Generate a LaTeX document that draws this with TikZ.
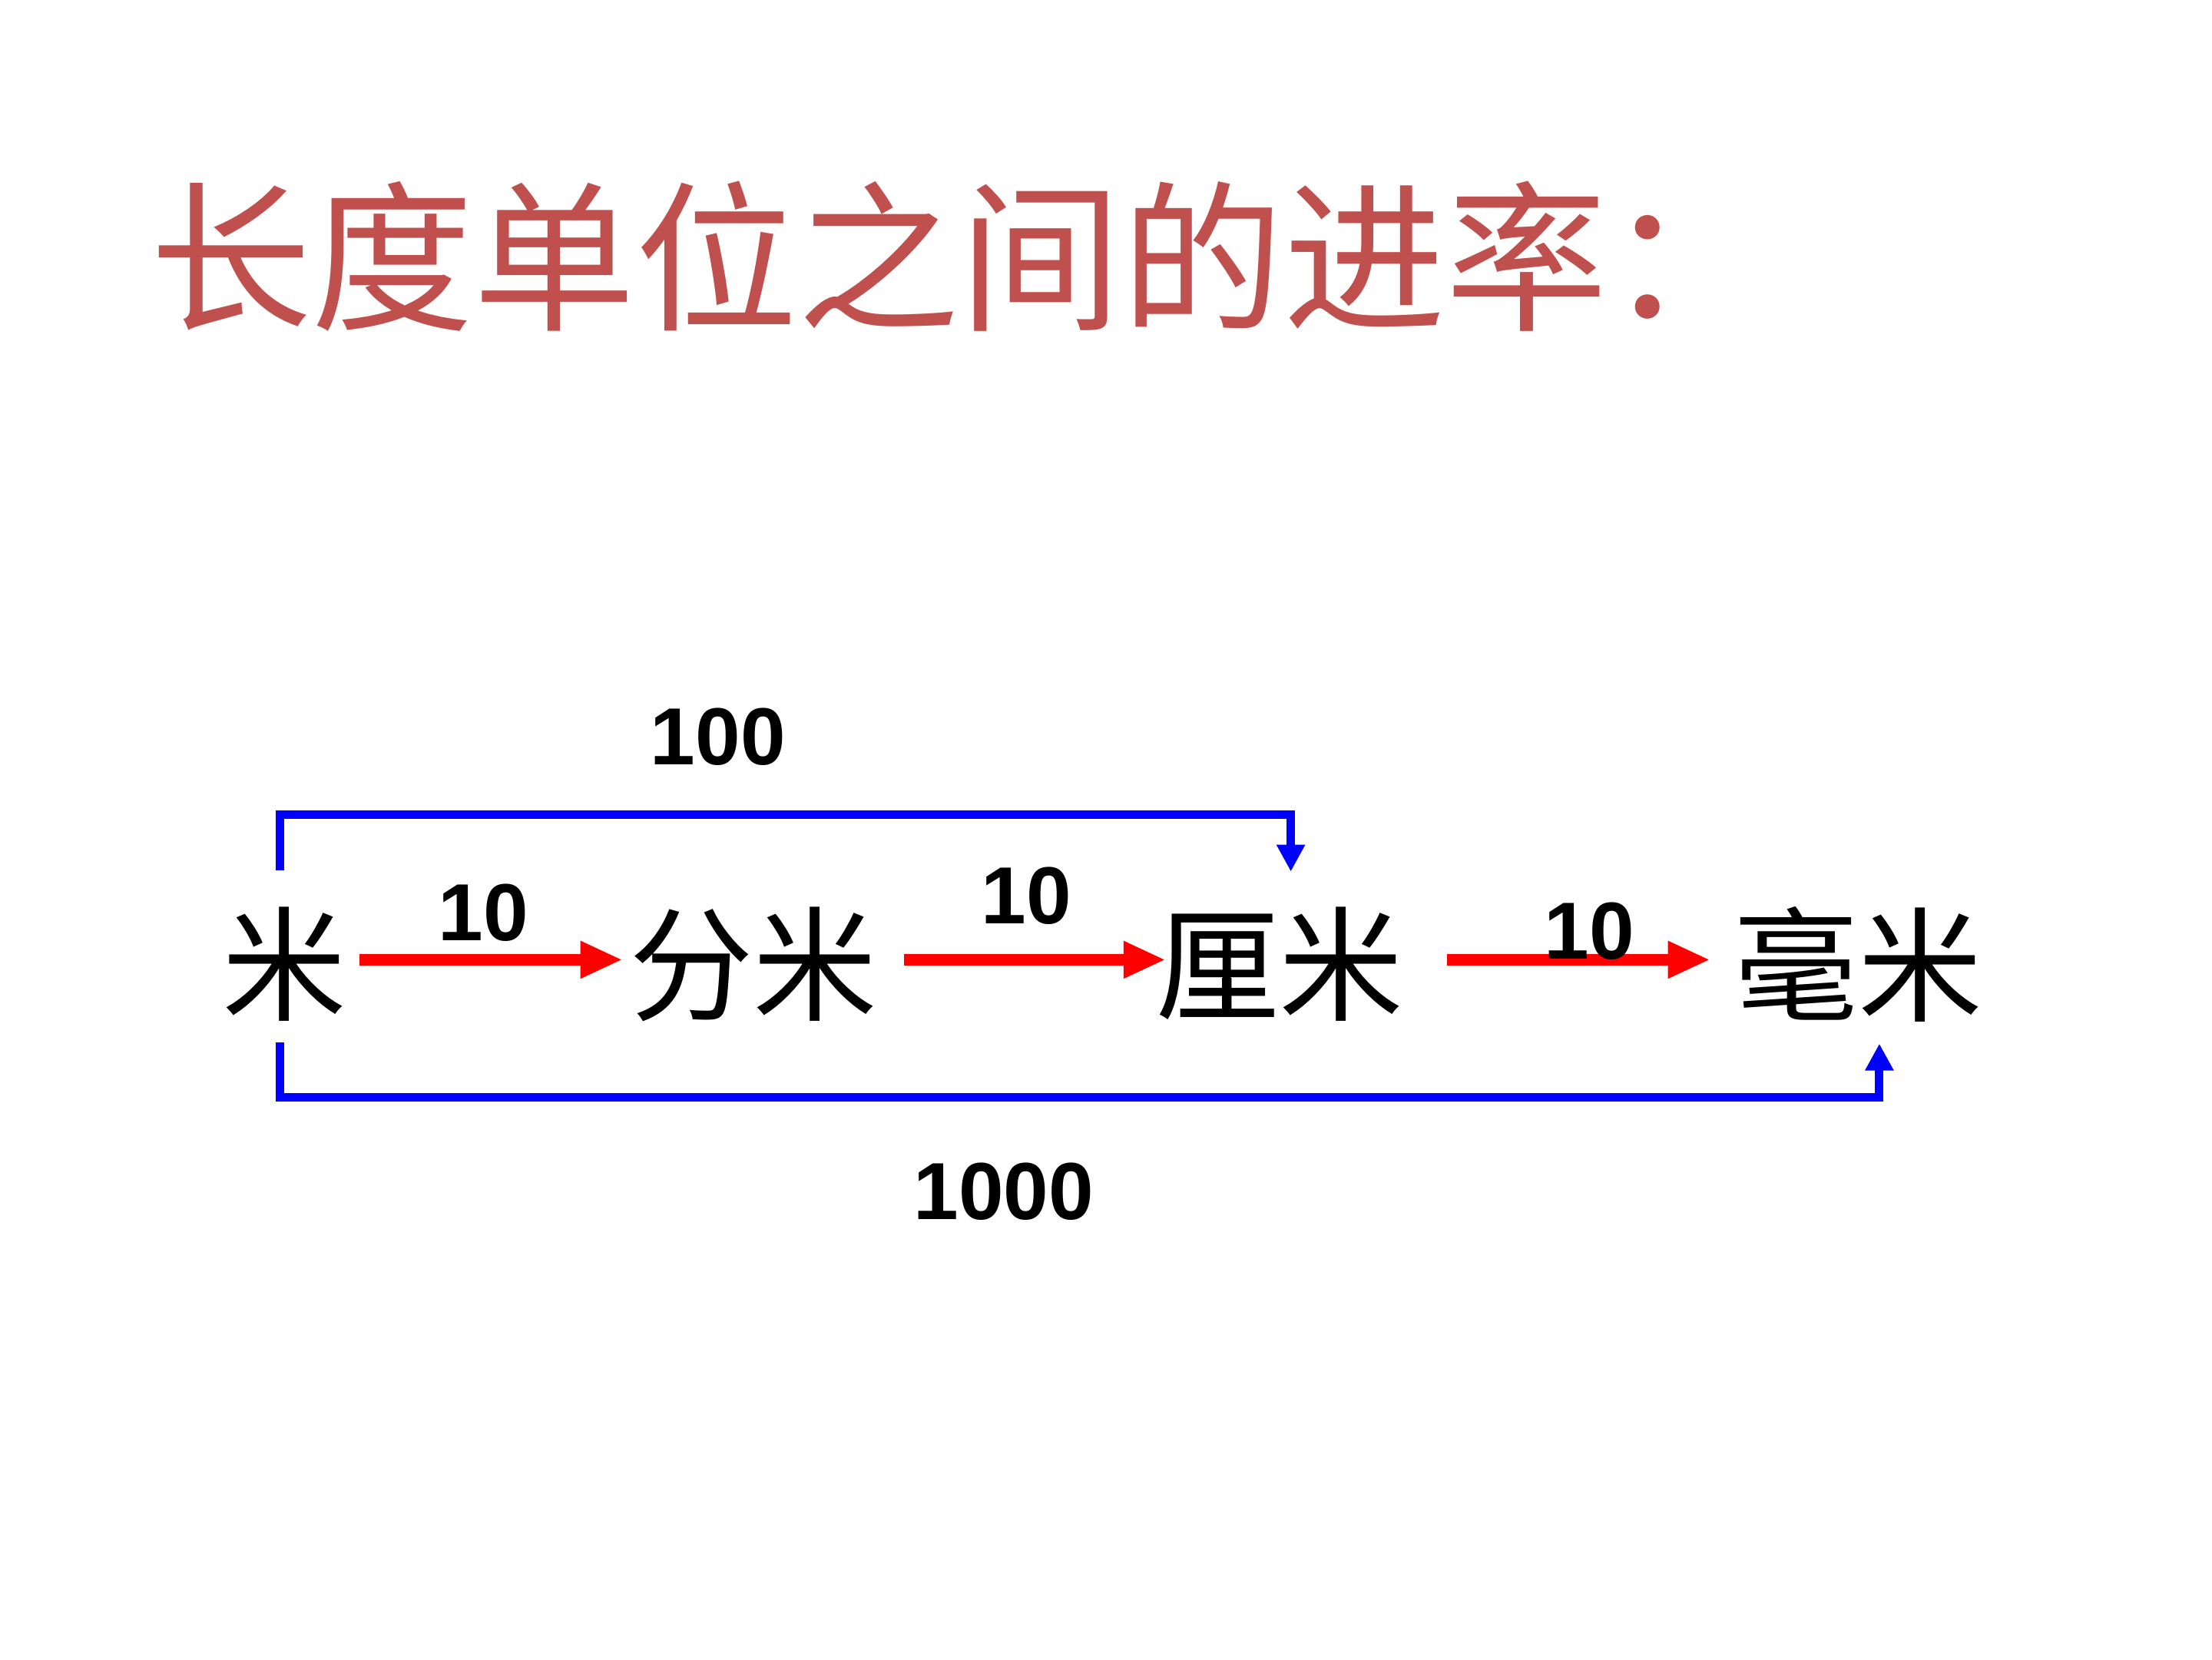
\documentclass[tikz,border=0pt]{standalone}
\usepackage{fontspec}
\newfontfamily\cjk{Noto Sans CJK SC}
\newfontfamily\cjkb{Noto Sans CJK SC Bold}
\setmainfont{Liberation Sans}
\usetikzlibrary{arrows.meta}
\definecolor{titlered}{HTML}{C0504D}
\begin{document}
\begin{tikzpicture}[x=0.018509cm,y=-0.018509cm,
  unit/.style={font=\cjk\fontsize{46}{50}\selectfont, inner sep=0pt},
  num/.style={font=\bfseries\fontsize{30}{32}\selectfont, inner sep=0pt},
  redarrow/.style={draw=red, line width=0.15cm, -{Triangle[length=0.55cm,width=0.45cm]}},
  bluearrow/.style={draw=blue, line width=0.11cm, -{Triangle[length=0.35cm,width=0.35cm]}}]
\useasboundingbox (0,0) rectangle (1556,1167);
\node[font=\cjk\fontsize{60}{64}\selectfont, text=titlered, anchor=west, inner sep=0pt] (title) at (105,180) {长度单位之间的进率：};
\node[unit] (m) at (200,678) {米};
\node[unit] (dm) at (530,678) {分米};
\node[unit] (cm) at (900,678) {厘米};
\node[unit] (mm) at (1307,678) {毫米};
\draw[redarrow] (253,675) coordinate (r1a) -- (438,675) coordinate (r1b);
\draw[redarrow] (636,675) coordinate (r2a) -- (820,675) coordinate (r2b);
\draw[redarrow] (1018,675) coordinate (r3a) -- (1203,675) coordinate (r3b);
\node[num] (l1) at (340,642) {10};
\node[num] (l2) at (722,630) {10};
\node[num] (l3) at (1118,655) {10};
\node[num] (l100) at (505,518) {100};
\node[num] (l1000) at (706,838) {1000};
\coordinate (ta) at (197,612);
\coordinate (tb) at (908,613);
\draw[bluearrow] (ta) -- (197,573) -- (908,573) -- (tb);
\coordinate (ba) at (197,733);
\coordinate (bb) at (1322,734);
\draw[bluearrow] (ba) -- (197,772) -- (1322,772) -- (bb);
\end{tikzpicture}
\end{document}
